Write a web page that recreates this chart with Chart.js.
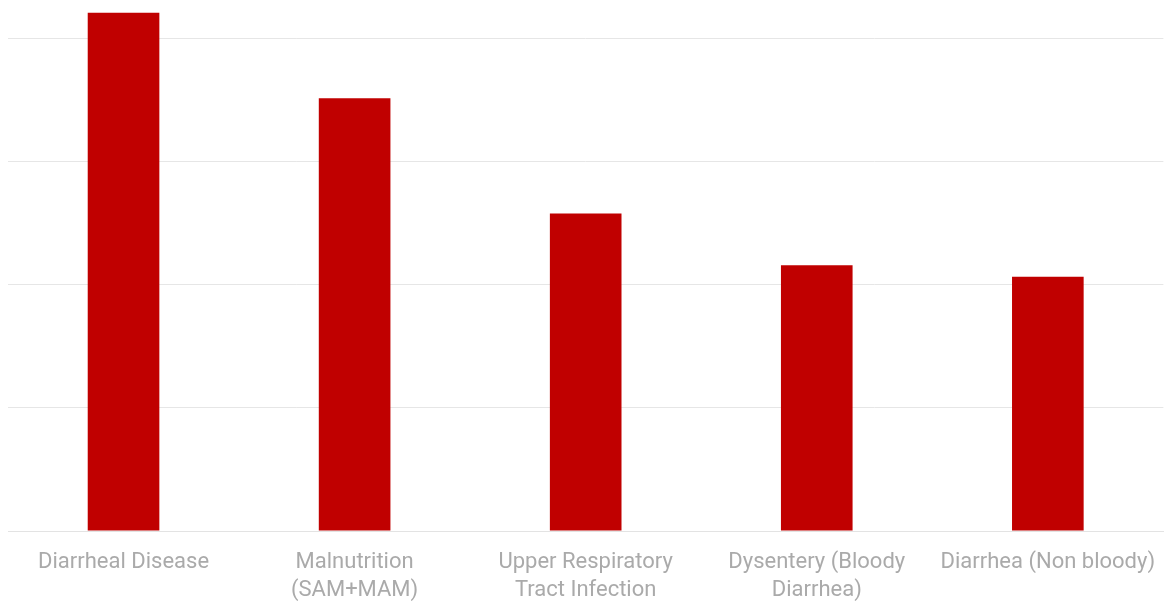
<!DOCTYPE html>
<html lang="en">
<head>
    <meta charset="UTF-8">
    <title>Cases by Disease</title>
    <script src="https://cdn.jsdelivr.net/npm/chart.js"></script>
    <style>
        html, body {
            margin: 0;
            padding: 0;
            background: #ffffff;
        }
        .wrap {
            width: 1174px;
            height: 606px;
        }
    </style>
</head>
<body>
    <div class="wrap">
        <canvas id="diseaseChart" width="1174" height="606"></canvas>
    </div>

    <script>
        // Chart data
        const categories = [
            'Diarrheal Disease',
            ['Malnutrition', '(SAM+MAM)'],
            ['Upper Respiratory', 'Tract Infection'],
            ['Dysentery (Bloody', 'Diarrhea)'],
            'Diarrhea (Non bloody)'
        ];
        const cases = [2106, 1759, 1290, 1080, 1033];
        const gridValues = [0, 500, 1000, 1500, 2000];
        const axisMax = 2150;

        const ctx = document.getElementById('diseaseChart');
        new Chart(ctx, {
            type: 'bar',
            data: {
                labels: categories,
                datasets: [{
                    label: 'Cases',
                    data: cases,
                    backgroundColor: '#c00000',
                    borderWidth: 0,
                    categoryPercentage: 1,
                    barPercentage: 0.31
                }]
            },
            options: {
                responsive: false,
                animation: false,
                layout: {
                    padding: { top: 2, left: 8, right: 9, bottom: 0 }
                },
                plugins: {
                    legend: { display: false },
                    tooltip: { enabled: false }
                },
                scales: {
                    x: {
                        afterFit: axis => { axis.height = 75; },
                        grid: { display: false, drawTicks: false, tickLength: 0 },
                        border: { display: true, color: '#e3e3e3', width: 1 },
                        ticks: {
                            autoSkip: false,
                            maxRotation: 0,
                            padding: 18,
                            color: '#aaaaaa',
                            font: {
                                family: 'Roboto, sans-serif',
                                size: 22,
                                lineHeight: 1.25
                            }
                        }
                    },
                    y: {
                        min: 0,
                        max: axisMax,
                        // gridlines only at the fixed values
                        afterBuildTicks: axis => {
                            axis.ticks = gridValues.map(v => ({ value: v }));
                        },
                        ticks: { display: false },
                        border: { display: false },
                        grid: {
                            drawTicks: false,
                            tickLength: 0,
                            lineWidth: 1,
                            color: '#e6e6e6'
                        }
                    }
                }
            }
        });
    </script>
</body>
</html>
